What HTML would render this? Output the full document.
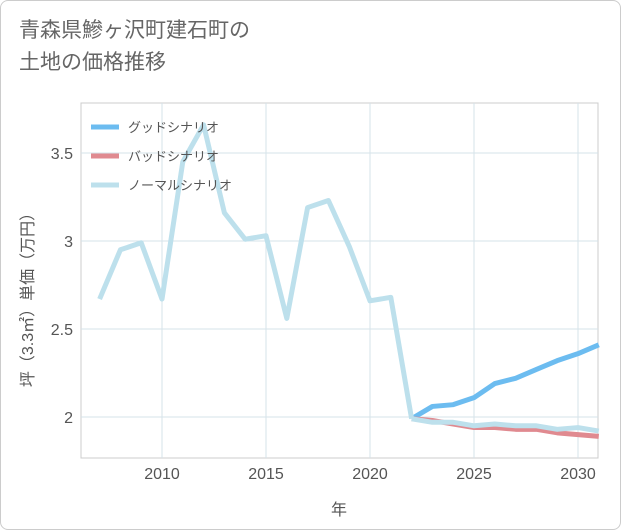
<!DOCTYPE html>
<html><head><meta charset="utf-8"><style>
body{margin:0;background:#fff;}
.wrap{position:relative;width:619px;height:528px;border:1px solid #ccc;border-radius:8px;overflow:hidden;background:#fff;font-family:"Liberation Sans","Noto Sans CJK JP",sans-serif;}
.title{position:absolute;left:18px;top:14px;font-size:21px;line-height:32px;color:#666;}
</style></head><body>
<div class="wrap">
<div class="title">青森県鰺ヶ沢町建石町の<br>土地の価格推移</div>
<svg id="chart" width="621" height="530" style="position:absolute;left:0;top:0"></svg>
</div>
<script>
const years=[2007,2008,2009,2010,2011,2012,2013,2014,2015,2016,2017,2018,2019,2020,2021,2022];
const histValues=[2.67,2.95,2.99,2.67,3.45,3.66,3.16,3.01,3.03,2.56,3.19,3.23,2.97,2.66,2.68,1.99];
const futureYears=[2022,2023,2024,2025,2026,2027,2028,2029,2030,2031];
const goodValues=[1.99,2.06,2.07,2.11,2.19,2.22,2.27,2.32,2.36,2.41];
const badValues=[1.99,1.98,1.96,1.94,1.94,1.93,1.93,1.91,1.90,1.89];
const normalValues=[1.99,1.97,1.97,1.95,1.96,1.95,1.95,1.93,1.94,1.92];
const xTicks=[2010,2015,2020,2025,2030];
const yTicks=[2,2.5,3,3.5];
const yTickLabels=["2","2.5","3","3.5"];
const NS="http://www.w3.org/2000/svg";
const svg=document.getElementById('chart');
const L=80,R=597,T=102,B=457;
const x=v=>161+(v-2010)*20.8;
const y=v=>416-(v-2)*176;
function mk(tag,attrs){const e=document.createElementNS(NS,tag);for(const k in attrs)e.setAttribute(k,attrs[k]);svg.appendChild(e);return e;}
const frame=mk('rect',{x:L,y:T,width:R-L,height:B-T,fill:'none',stroke:'#ccc'});


xTicks.forEach(t=>{
 const g=mk('line',{x1:x(t),x2:x(t),y1:T,y2:B,stroke:'#d5e3ea'});
 
 
 const tx=mk('text',{x:x(t),y:478,'text-anchor':'middle','font-size':16,fill:'#555'});
 tx.textContent=t;
 
 
});
yTicks.forEach((t,i)=>{
 const g=mk('line',{x1:L,x2:R,y1:y(t),y2:y(t),stroke:'#d5e3ea'});
 
 
 const tx=mk('text',{x:72,y:y(t)+6,'text-anchor':'end','font-size':16,fill:'#555'});
 tx.textContent=yTickLabels[i];
 
 
});
const xt=mk('text',{x:338,y:514,'text-anchor':'middle','font-size':16,fill:'#555'});
xt.textContent='年';


const yt=mk('text',{x:0,y:0,'text-anchor':'middle','font-size':16,fill:'#555',transform:'translate(32,295) rotate(-90)'});
yt.textContent='坪（3.3㎡）単価（万円）';


function line(xs,vs,color,name){
 const p=mk('polyline',{points:xs.map((v,i)=>x(v)+','+y(vs[i])).join(' '),fill:'none',stroke:color,'stroke-width':5,'stroke-linejoin':'round'});
 
 
}
line(futureYears,goodValues,'#6cbcf0','good-scenario-line');
line(futureYears,badValues,'#e08a90','bad-scenario-line');
line(futureYears,normalValues,'#bde0ec','normal-scenario-line');
line(years,histValues,'#bde0ec','historical-line');
const legend=[['グッドシナリオ','#6cbcf0'],['バッドシナリオ','#e08a90'],['ノーマルシナリオ','#bde0ec']];
legend.forEach((l,i)=>{
 const yy=126+i*29;
 const s=mk('line',{x1:90,x2:118,y1:yy,y2:yy,stroke:l[1],'stroke-width':5});
 
 
 const t=mk('text',{x:127,y:yy+5,'font-size':13,fill:'#555'});
 t.textContent=l[0];
 
 
});
</script>
</body></html>
